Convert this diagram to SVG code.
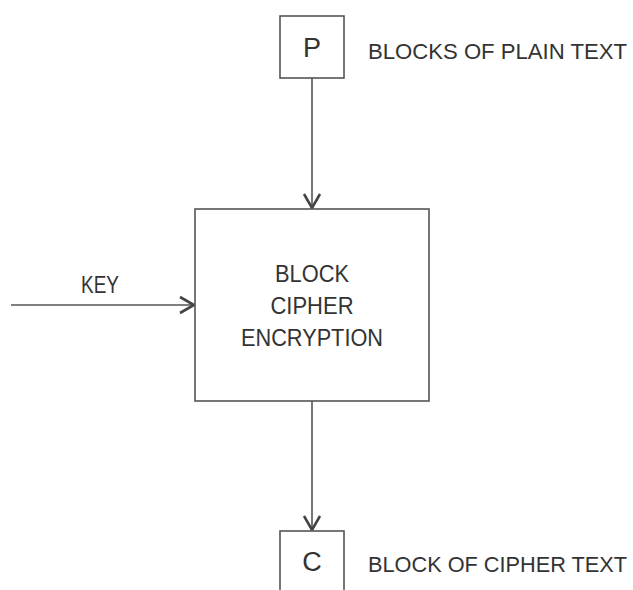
<svg xmlns="http://www.w3.org/2000/svg" width="633" height="590" viewBox="0 0 633 590">
<style>
.box{fill:#fff;stroke:#555;stroke-width:1.6}
.line{fill:none;stroke:#555;stroke-width:1.6}
.t{font-family:"Liberation Sans",Arial,sans-serif;fill:#333}
.c{text-anchor:middle}
</style>
<defs>
<marker id="arr" viewBox="-16 -10 20 20" refX="0" refY="0" markerWidth="20" markerHeight="20" markerUnits="userSpaceOnUse" orient="auto">
<path d="M-14,-8 L0,0 L-14,8" fill="none" stroke="#444" stroke-width="2.6" stroke-linejoin="miter"/>
</marker>
</defs>
<rect width="633" height="590" fill="#fff"/>
<g id="connectors">
<line class="line" x1="312" y1="78" x2="312" y2="208" marker-end="url(#arr)"/>
<line class="line" x1="11" y1="305" x2="194" y2="305" marker-end="url(#arr)"/>
<line class="line" x1="312" y1="401" x2="312" y2="530" marker-end="url(#arr)"/>
</g>
<g id="plain">
<rect class="box" x="280" y="16" width="64" height="62"/>
<text class="t c" x="312" y="57" font-size="27">P</text>
<text class="t" x="368" y="59" font-size="22" textLength="259" lengthAdjust="spacingAndGlyphs">BLOCKS OF PLAIN TEXT</text>
</g>
<g id="cipher">
<rect class="box" x="195" y="209" width="234" height="192"/>
<text class="t c" x="312" y="282" font-size="24" textLength="74" lengthAdjust="spacingAndGlyphs">BLOCK</text>
<text class="t c" x="312" y="314" font-size="24" textLength="83" lengthAdjust="spacingAndGlyphs">CIPHER</text>
<text class="t c" x="312" y="346" font-size="24" textLength="142" lengthAdjust="spacingAndGlyphs">ENCRYPTION</text>
</g>
<g id="key">
<text class="t c" x="100" y="293" font-size="24" textLength="38" lengthAdjust="spacingAndGlyphs">KEY</text>
</g>
<g id="ciphertext">
<rect class="box" x="280" y="531" width="64" height="70"/>
<text class="t c" x="312" y="571" font-size="27">C</text>
<text class="t" x="368" y="572" font-size="22" textLength="259" lengthAdjust="spacingAndGlyphs">BLOCK OF CIPHER TEXT</text>
</g>
</svg>
